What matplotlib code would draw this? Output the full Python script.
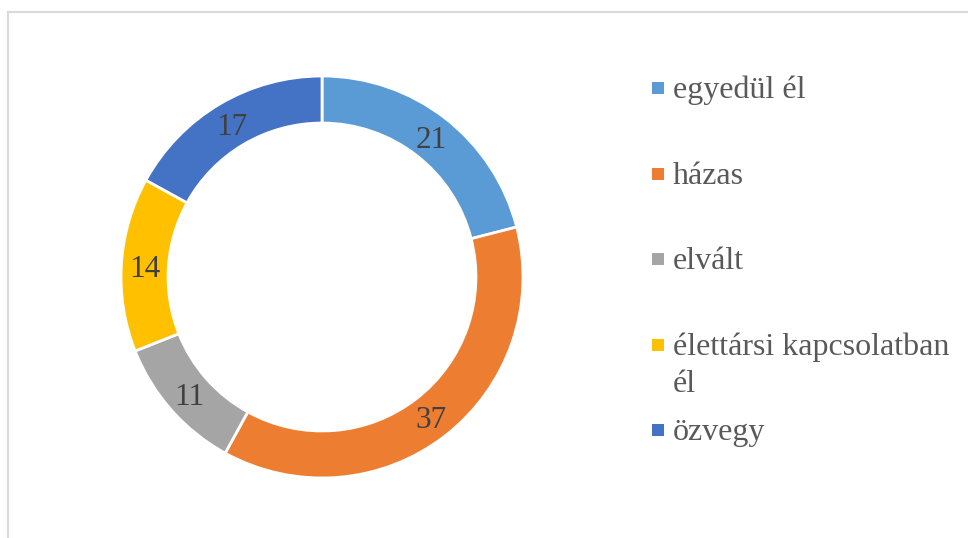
import matplotlib
matplotlib.use("Agg")
import matplotlib.pyplot as plt
from matplotlib.patches import Rectangle
from matplotlib.lines import Line2D

plt.rcParams['font.family'] = ['Liberation Serif', 'DejaVu Serif']

# adatok
categories = ['egyedül él', 'házas', 'elvált', 'élettársi kapcsolatban\nél', 'özvegy']
values = [21, 37, 11, 14, 17]
colors = ['#5B9BD5', '#ED7D31', '#A5A5A5', '#FFC000', '#4472C4']

W, H = 968, 538
fig = plt.figure(figsize=(W / 100, H / 100), dpi=100)

# keret
fig.add_artist(Line2D([8 / W, 1.0], [1 - 12 / H, 1 - 12 / H], color='#D9D9D9', lw=1.5))
fig.add_artist(Line2D([8 / W, 8 / W], [0.0, 1 - 12 / H], color='#D9D9D9', lw=1.5))

# fánk diagram
cx, cy, r = 322, 277, 201
ax = fig.add_axes([(cx - r) / W, (H - cy - r) / H, 2 * r / W, 2 * r / H])
total = sum(values)
wedges, _, autotexts = ax.pie(
    values, colors=colors, startangle=90, counterclock=False, radius=1.0,
    wedgeprops=dict(width=0.234, edgecolor='white', linewidth=2),
    autopct=lambda p: f"{p * total / 100:.0f}", pctdistance=0.883,
    textprops=dict(fontsize=22.5, color='#404040'))
for t in autotexts:
    t.set_va('center_baseline')
ax.set_xlim(-1, 1)
ax.set_ylim(-1, 1)
ax.set_aspect('equal')
ax.axis('off')

# jelmagyarázat
baselines = [98, 184, 269, 355, 440]
for lab, col, yb in zip(categories, colors, baselines):
    fig.add_artist(Rectangle((652 / W, 1 - (yb - 4.5) / H), 11.5 / W, 11.5 / H,
                             transform=fig.transFigure, facecolor=col, edgecolor='none'))
    fig.text(673 / W, 1 - yb / H, lab.split('\n')[0], fontsize=23, color='#595959',
             ha='left', va='baseline')
    if '\n' in lab:
        fig.text(673 / W, 1 - (yb + 37) / H, lab.split('\n')[1], fontsize=23,
                 color='#595959', ha='left', va='baseline')

fig.savefig('out.png', dpi=100)
